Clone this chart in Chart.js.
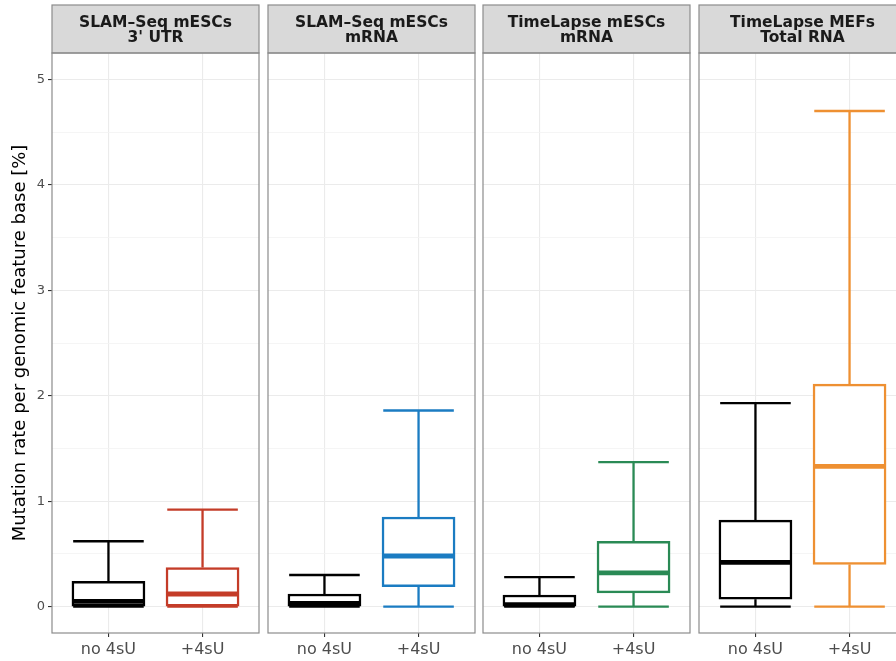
<!DOCTYPE html>
<html>
<head>
<meta charset="utf-8">
<script src="https://cdn.jsdelivr.net/npm/chart.js@4.4.1/dist/chart.umd.min.js"></script>
<style>
  html, body { margin: 0; padding: 0; background: #fff; }
  #fig { position: relative; width: 896px; height: 661px; overflow: hidden; background: #fff; }
  #fig canvas { position: absolute; top: 0; }
</style>
</head>
<body>
<div id="fig"></div>
<script>
// Facet titles, two lines each
const panelTitles = [
  ['SLAM\u2013Seq mESCs', "3' UTR"],
  ['SLAM\u2013Seq mESCs', 'mRNA'],
  ['TimeLapse mESCs', 'mRNA'],
  ['TimeLapse MEFs', 'Total RNA']
];
const conditions = ['no 4sU', '+4sU'];
const boxColors = [
  ['#000000', '#c43c28'],
  ['#000000', '#1b7cc2'],
  ['#000000', '#2a8a55'],
  ['#000000', '#ee9032']
];

// Box summaries per panel, [no 4sU, +4sU], mutation rate in %
const whiskerLow  = [[0, 0], [0, 0], [0, 0], [0, 0]];
const q1          = [[0, 0], [0, 0.19], [0, 0.13], [0.07, 0.40]];
const median      = [[0.05, 0.12], [0.03, 0.48], [0.02, 0.32], [0.42, 1.33]];
const q3          = [[0.24, 0.37], [0.12, 0.85], [0.11, 0.62], [0.82, 2.11]];
const whiskerHigh = [[0.62, 0.92], [0.30, 1.86], [0.28, 1.37], [1.93, 4.70]];

const yMajorTicks = [0, 1, 2, 3, 4, 5];
const yMinorTicks = [0.5, 1.5, 2.5, 3.5, 4.5];

// Layout
const FIG_H = 661;
const PANEL_LEFT = [52, 268, 483, 699];
const PANEL_W = 207;
const PLOT_TOP = 53;
const X_AXIS_H = 28;
const STRIP_TOP = 5;
const X_MIN = 0.4, X_MAX = 2.6;
const BOX_W = 0.75;
const HALF = BOX_W / 2;
const Y_MIN = -0.25, Y_MAX = 5.25;

const SANS = '"DejaVu Sans", "Liberation Sans", sans-serif';
const FRAME = '#8c8c8c';

const panelFrame = {
  id: 'panelFrame',
  beforeDraw(chart) {
    const { ctx, chartArea: a } = chart;
    ctx.save();
    ctx.fillStyle = '#fff';
    ctx.fillRect(a.left, a.top, a.right - a.left, a.bottom - a.top);
    ctx.restore();
  },
  afterDraw(chart, args, opts) {
    const { ctx, chartArea: a } = chart;
    ctx.save();
    // strip
    ctx.fillStyle = '#d9d9d9';
    ctx.fillRect(a.left, STRIP_TOP, a.right - a.left, a.top - STRIP_TOP);
    ctx.strokeStyle = FRAME;
    ctx.lineWidth = 1.2;
    ctx.strokeRect(a.left, STRIP_TOP, a.right - a.left, a.top - STRIP_TOP);
    ctx.fillStyle = '#1a1a1a';
    ctx.font = 'bold 15.5px ' + SANS;
    ctx.textAlign = 'center';
    ctx.textBaseline = 'alphabetic';
    const cx = (a.left + a.right) / 2;
    ctx.fillText(opts.lines[0], cx, 26.5);
    ctx.fillText(opts.lines[1], cx, 41.5);
    // panel border
    ctx.strokeStyle = FRAME;
    ctx.strokeRect(a.left, a.top, a.right - a.left, a.bottom - a.top);
    ctx.restore();
  }
};

const isMajor = v => Number.isInteger(v);

function makePanel(p) {
  const first = p === 0;
  const left = first ? 0 : PANEL_LEFT[p] - 4;
  const width = first ? PANEL_LEFT[0] + PANEL_W + 4 : PANEL_W + 8;

  const canvas = document.createElement('canvas');
  canvas.width = width;
  canvas.height = FIG_H;
  canvas.style.left = left + 'px';
  canvas.style.width = width + 'px';
  canvas.style.height = FIG_H + 'px';
  document.getElementById('fig').appendChild(canvas);

  const xs = conditions.map((_, i) => i + 1);
  const pxPerUnit = PANEL_W / (X_MAX - X_MIN);
  const boxBorder = 2.5;

  const datasets = [{
    type: 'bar',
    data: xs.map((x, i) => ({ x, y: [q1[p][i], q3[p][i]] })),
    backgroundColor: '#ffffff',
    borderColor: boxColors[p],
    borderWidth: boxBorder,
    borderSkipped: false,
    barThickness: BOX_W * pxPerUnit + boxBorder,
    order: 3
  }];

  xs.forEach((x, i) => {
    const c = boxColors[p][i];
    // whiskers and caps
    datasets.push({
      type: 'line',
      data: [
        { x: x - HALF, y: whiskerHigh[p][i] }, { x: x + HALF, y: whiskerHigh[p][i] }, { x, y: null },
        { x, y: whiskerHigh[p][i] }, { x, y: q3[p][i] }, { x, y: null },
        { x, y: q1[p][i] }, { x, y: whiskerLow[p][i] }, { x, y: null },
        { x: x - HALF, y: whiskerLow[p][i] }, { x: x + HALF, y: whiskerLow[p][i] }
      ],
      borderColor: c,
      borderWidth: 2.3,
      borderCapStyle: 'butt',
      pointRadius: 0,
      spanGaps: false,
      order: 2
    });
    // median
    datasets.push({
      type: 'line',
      data: [{ x: x - HALF, y: median[p][i] }, { x: x + HALF, y: median[p][i] }],
      borderColor: c,
      borderWidth: 4.8,
      borderCapStyle: 'butt',
      pointRadius: 0,
      order: 1
    });
  });

  return new Chart(canvas, {
    type: 'bar',
    data: { datasets },
    plugins: [panelFrame],
    options: {
      responsive: false,
      animation: false,
      events: [],
      layout: { padding: { top: PLOT_TOP, bottom: 0, left: first ? 0 : 4, right: 4 } },
      plugins: {
        legend: { display: false },
        tooltip: { enabled: false },
        panelFrame: { lines: panelTitles[p] }
      },
      scales: {
        x: {
          type: 'linear',
          min: X_MIN,
          max: X_MAX,
          offset: false,
          afterBuildTicks: s => { s.ticks = xs.map(v => ({ value: v })); },
          afterFit: s => { s.height = X_AXIS_H; },
          border: { display: false },
          grid: { color: '#ebebeb', lineWidth: 1.1, offset: false, tickLength: 4, tickColor: '#333333', tickWidth: 1.1 },
          ticks: {
            autoSkip: false, maxRotation: 0, padding: 3,
            color: '#4d4d4d',
            font: { family: SANS, size: 16 },
            callback: v => conditions[v - 1]
          }
        },
        y: {
          type: 'linear',
          min: Y_MIN,
          max: Y_MAX,
          afterBuildTicks: s => {
            s.ticks = [...yMajorTicks, ...yMinorTicks].sort((a, b) => a - b).map(v => ({ value: v }));
          },
          afterFit: s => { s.width = first ? PANEL_LEFT[0] : 0; },
          border: { display: false },
          grid: {
            color: ctx => isMajor(ctx.tick.value) ? '#ebebeb' : '#f3f3f3',
            lineWidth: ctx => isMajor(ctx.tick.value) ? 1.1 : 0.8,
            drawTicks: first,
            tickLength: 4,
            tickColor: ctx => isMajor(ctx.tick.value) ? '#333333' : 'rgba(0,0,0,0)',
            tickWidth: 1.1
          },
          ticks: {
            display: first,
            padding: 3,
            color: '#4d4d4d',
            font: { family: SANS, size: 13 },
            callback: v => isMajor(v) ? String(v) : ''
          },
          title: {
            display: first,
            text: 'Mutation rate per genomic feature base [%]',
            color: '#000000',
            font: { family: SANS, size: 18 },
            padding: { top: 10, bottom: 0 }
          }
        }
      }
    }
  });
}

panelTitles.forEach((_, p) => makePanel(p));
</script>
</body>
</html>
